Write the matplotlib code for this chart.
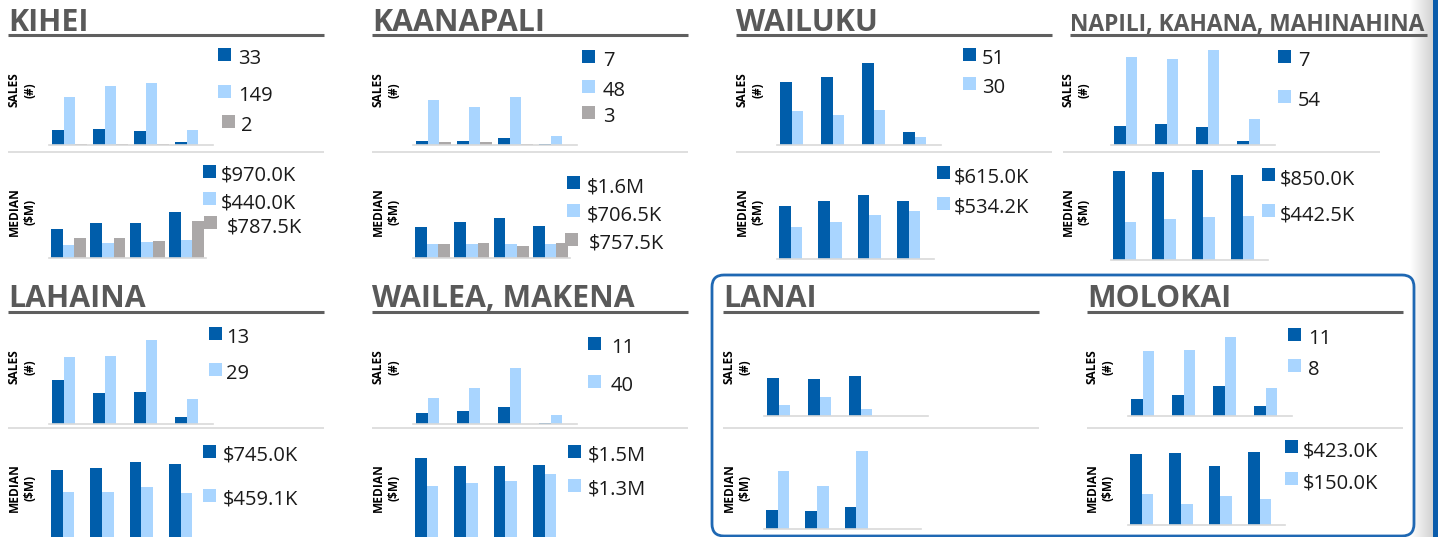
import matplotlib
matplotlib.use("Agg")
import matplotlib.pyplot as plt
import numpy as np
from matplotlib.patches import Rectangle, FancyBboxPatch
from matplotlib.colors import LinearSegmentedColormap

plt.rcParams['font.family'] = ['Open Sans', 'DejaVu Sans']

W, H, DPI = 1438, 537, 100

# ---------------- data ----------------
categories = ["Q1", "Q2", "Q3", "Q4"]
series_colors = ["#005DAA", "#A9D5FF", "#ABA8A8"]

regions = ["KIHEI", "KAANAPALI", "WAILUKU", "NAPILI, KAHANA, MAHINAHINA",
           "LAHAINA", "WAILEA, MAKENA", "LANAI", "MOLOKAI"]

# sales (#): [dark series, light series, gray series]
kihei_sales = [[35, 38, 33, 7], [116, 142, 149, 36], [2, 2, 2, 0]]
kaanapali_sales = [[4, 4, 7, 1], [45, 38, 48, 9], [3, 3, 1, 0]]
wailuku_sales = [[63, 68, 82, 13], [34, 30, 35, 8]]
napili_sales = [[11, 12, 10, 2], [50, 49, 54, 15]]
lahaina_sales = [[22, 15.5, 16, 3.5], [33.5, 34, 42, 12.5]]
wailea_sales = [[8, 9, 12, 0.5], [18, 25, 39, 6]]
lanai_sales = [[3.8, 3.7, 4.0, 0], [1.1, 1.9, 0.7, 0]]
molokai_sales = [[3.4, 4.2, 6.0, 2.0], [13.0, 13.2, 15.8, 5.6]]

# median price ($K)
kihei_median = [[612, 738, 738, 970], [274, 316, 338, 380], [422, 422, 359, 787]]
kaanapali_median = [[1240, 1440, 1600, 1280], [550, 570, 575, 565], [560, 600, 480, 600]]
wailuku_median = [[562, 615, 678, 615], [339, 392, 466, 509]]
napili_median = [[890, 880, 900, 850], [380, 410, 430, 442]]
lahaina_median = [[680, 700, 760, 745], [460, 460, 510, 450]]
wailea_median = [[1640, 1476, 1476, 1500], [1066, 1128, 1169, 1312]]
lanai_median = [[190, 180, 220, 0], [580, 430, 780, 0]]
molokai_median = [[412, 418, 342, 423], [180, 122, 168, 150]]

# legend labels
kihei_sales_leg = ["33", "149", "2"]
kihei_median_leg = ["$970.0K", "$440.0K", "$787.5K"]
kaanapali_sales_leg = ["7", "48", "3"]
kaanapali_median_leg = ["$1.6M", "$706.5K", "$757.5K"]
wailuku_sales_leg = ["51", "30"]
wailuku_median_leg = ["$615.0K", "$534.2K"]
napili_sales_leg = ["7", "54"]
napili_median_leg = ["$850.0K", "$442.5K"]
lahaina_sales_leg = ["13", "29"]
lahaina_median_leg = ["$745.0K", "$459.1K"]
wailea_sales_leg = ["11", "40"]
wailea_median_leg = ["$1.5M", "$1.3M"]
lanai_sales_leg = []
lanai_median_leg = []
molokai_sales_leg = ["11", "8"]
molokai_median_leg = ["$423.0K", "$150.0K"]

sales_data = [kihei_sales, kaanapali_sales, wailuku_sales, napili_sales,
              lahaina_sales, wailea_sales, lanai_sales, molokai_sales]
median_data = [kihei_median, kaanapali_median, wailuku_median, napili_median,
               lahaina_median, wailea_median, lanai_median, molokai_median]
sales_legs = [kihei_sales_leg, kaanapali_sales_leg, wailuku_sales_leg, napili_sales_leg,
              lahaina_sales_leg, wailea_sales_leg, lanai_sales_leg, molokai_sales_leg]
median_legs = [kihei_median_leg, kaanapali_median_leg, wailuku_median_leg, napili_median_leg,
               lahaina_median_leg, wailea_median_leg, lanai_median_leg, molokai_median_leg]

sales_ymax = [240, 100, 100, 57, 50, 70, 10, 20]
median_ymax = [2100, 4000, 1060, 1000, 1000, 2050, 1000, 580]

# ---------------- layout (pixels, y from top) ----------------
# tx, title size, title baseline, underline y, underline right, sales base, median base,
# separator y, separator left, separator right, ylabel x
layout = [
    (8, 21.8, 31, 35, 324, 145, 258, 152, 8, 324, 22),
    (372, 21.8, 31, 35, 688, 145, 258, 152, 372, 688, 386),
    (736, 21.8, 31, 35, 1052, 145, 259, 152, 736, 1052, 750),
    (1070, 16.4, 31, 35, 1427, 145, 260, 152, 1063, 1380, 1076),
    (8, 21.8, 307, 312, 324, 424, 538, 428, 8, 324, 22),
    (372, 21.8, 307, 312, 688, 424, 538, 428, 372, 688, 386),
    (723, 21.8, 307, 312, 1039, 416, 529, 428, 723, 1039, 737),
    (1087, 21.8, 307, 312, 1403, 416, 525, 428, 1087, 1403, 1100),
]
label_y = [(90, 212)] * 4 + [(367, 488)] * 4

# legend rows: (square x, center y, text x)
sales_leg_pos = [
    [(218, 54, 238), (218, 91, 238), (222, 121, 241)],
    [(582, 56, 603), (582, 86, 603), (582, 112, 603)],
    [(963, 54, 982), (963, 83, 982)],
    [(1278, 56, 1298), (1278, 96, 1298)],
    [(209, 333, 226), (209, 369, 226)],
    [(588, 343, 611), (588, 381, 611)],
    [],
    [(1288, 334, 1308), (1288, 365, 1308)],
]
median_leg_pos = [
    [(203, 171, 221), (203, 198, 221), (204, 222, 227)],
    [(567, 182, 587), (567, 210, 587), (565, 239, 589)],
    [(937, 172, 954), (937, 203, 954)],
    [(1262, 174, 1280), (1262, 210, 1280)],
    [(203, 451, 223), (203, 495, 223)],
    [(568, 451, 588), (568, 485, 588)],
    [],
    [(1285, 446, 1303), (1285, 478, 1303)],
]

fig = plt.figure(figsize=(W / DPI, H / DPI), dpi=DPI)
fig.patch.set_facecolor("white")

ov = fig.add_axes([0, 0, 1, 1])
ov.set_zorder(0)
ov.axis("off")

TITLE_COLOR = "#595959"


def add_chart(left, base, width, height, series, ymax, bw_frac):
    ax = fig.add_axes([left / W, (H - base) / H, width / W, height / H])
    ax.set_zorder(2)
    ax.patch.set_alpha(0)
    x = np.arange(len(categories))
    bw = bw_frac
    for i, vals in enumerate(series):
        ax.bar(x + (i - 1) * bw, vals, bw, color=series_colors[i], linewidth=0)
    ax.set_xlim(-0.5, len(categories) - 0.5)
    ax.set_ylim(0, ymax)
    for s in ["top", "left", "right"]:
        ax.spines[s].set_visible(False)
    ax.spines["bottom"].set_color("#D9D9D9")
    ax.spines["bottom"].set_linewidth(1.2)
    ax.set_xticks([])
    ax.set_yticks([])
    return ax


for k, name in enumerate(regions):
    tx, ts, tb, uy, ur, sb, mb, sy, sl, sr, lx = layout[k]
    ov.text(tx, tb, name, fontsize=ts, fontweight="bold", color=TITLE_COLOR,
            ha="left", va="baseline")
    ov.plot([tx, ur], [uy, uy], color="#5F5F5F", lw=2.2, solid_capstyle="butt")
    ov.plot([sl, sr], [sy, sy], color="#D9D9D9", lw=1.2, solid_capstyle="butt")
    ly_s, ly_m = label_y[k]
    ov.text(lx, ly_s, "SALES\n(#)", rotation=90, ha="center", va="center",
            fontsize=8.6, fontweight="bold", linespacing=1.3, multialignment="center",
            color="black")
    ov.text(lx, ly_m, "MEDIAN\n($M)", rotation=90, ha="center", va="center",
            fontsize=8.6, fontweight="bold", linespacing=1.3, multialignment="center",
            color="black")

    add_chart(tx + 41, sb, 164, 100, sales_data[k], sales_ymax[k], 0.285)
    add_chart(tx + 41, mb, 157, 100, median_data[k], median_ymax[k], 0.298)

    for legs, pos in ((sales_legs[k], sales_leg_pos[k]), (median_legs[k], median_leg_pos[k])):
        for i, (lab, (sqx, cy, txx)) in enumerate(zip(legs, pos)):
            ov.add_patch(Rectangle((sqx, cy - 6), 12.5, 12.5, color=series_colors[i], lw=0))
            ov.text(txx, cy + 10, lab, fontsize=14.5, color="#1A1A1A", ha="left", va="baseline")

# rounded box around LANAI / MOLOKAI
ov.add_patch(FancyBboxPatch((712, 275), 702, 261,
                            boxstyle="round,pad=0,rounding_size=12",
                            ec="#1F68B3", fc="none", lw=2.0))

# right edge: gray gradient + blue strip
cmap = LinearSegmentedColormap.from_list("edge", ["#FFFFFF", "#D2D2D2"])
ov.imshow(np.linspace(0, 1, 64)[None, :], extent=[1410, 1433, H, 0], cmap=cmap,
          aspect="auto", interpolation="bilinear")
ov.add_patch(Rectangle((1433, 0), 6, H, color="#0A5CAB", lw=0))

ov.set_xlim(0, W)
ov.set_ylim(H, 0)

fig.savefig("out.png", dpi=DPI, facecolor="white")
